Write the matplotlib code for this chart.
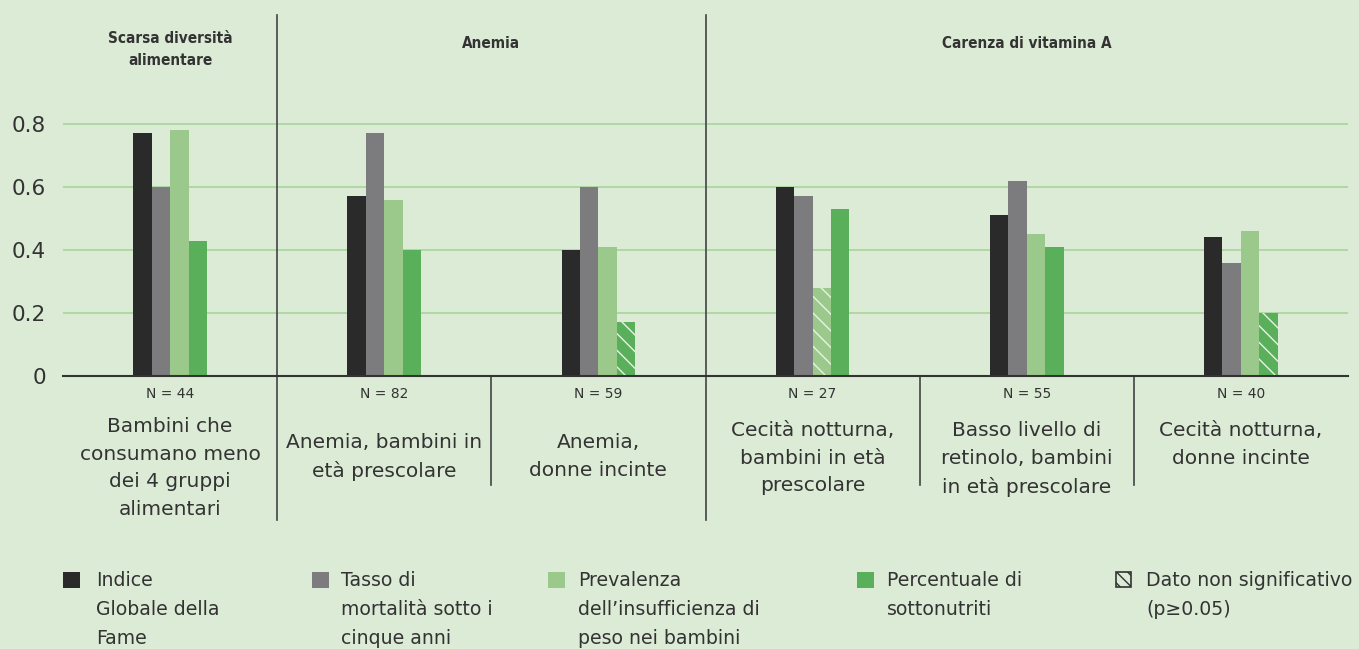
import matplotlib.pyplot as plt
import matplotlib.transforms as mtransforms
from matplotlib.patches import Rectangle

# data
categories = [
    "Bambini che\nconsumano meno\ndei 4 gruppi\nalimentari",
    "Anemia, bambini in\netà prescolare",
    "Anemia,\ndonne incinte",
    "Cecità notturna,\nbambini in età\nprescolare",
    "Basso livello di\nretinolo, bambini\nin età prescolare",
    "Cecità notturna,\ndonne incinte",
]
sample_sizes = [44, 82, 59, 27, 55, 40]
section_titles = ["Scarsa diversità\nalimentare", "Anemia", "Carenza di vitamina A"]
section_spans = [(0, 1), (1, 3), (3, 6)]

ghi = [0.77, 0.57, 0.40, 0.60, 0.51, 0.44]
u5mr = [0.60, 0.77, 0.60, 0.57, 0.62, 0.36]
underweight = [0.78, 0.56, 0.41, 0.28, 0.45, 0.46]
undernourished = [0.43, 0.40, 0.17, 0.53, 0.41, 0.20]

series = [ghi, u5mr, underweight, undernourished]
series_labels = [
    "Indice\nGlobale della\nFame",
    "Tasso di\nmortalità sotto i\ncinque anni",
    "Prevalenza\ndell’insufficienza di\npeso nei bambini",
    "Percentuale di\nsottonutriti",
]
# (series index, category index) of non significant values
not_significant = [(3, 2), (2, 3), (3, 5)]
ns_label = "Dato non significativo\n(p≥0.05)"

colors = ["#2a2a2a", "#7c7c7e", "#9bc98b", "#5ab05a"]
bg = "#dcebd6"
grid_col = "#a6d59b"
text_col = "#333333"

W, H = 1359, 649
fig = plt.figure(figsize=(W / 100, H / 100), dpi=100, facecolor=bg)


def fy(py):
    return 1 - py / H


ax = fig.add_axes([63 / W, fy(376), (1348 - 63) / W, (376 - 15) / H])
ax.set_facecolor(bg)
ax.set_xlim(0, 6)
ax.set_ylim(0, 361 / 315)

width = 0.086
offsets = [-1.5, -0.5, 0.5, 1.5]
for s, (vals, col) in enumerate(zip(series, colors)):
    xs = [i + 0.5 + offsets[s] * width for i in range(len(vals))]
    bars = ax.bar(xs, vals, width=width, color=col, linewidth=0, zorder=3)
    for (si, ci) in not_significant:
        if si == s:
            bars[ci].set_hatch("\\\\")
            bars[ci].set_edgecolor("#e8f2e4")

ax.set_yticks([0, 0.2, 0.4, 0.6, 0.8])
ax.set_yticklabels(["0", "0.2", "0.4", "0.6", "0.8"])
ax.tick_params(axis="y", length=0, pad=12, labelsize=15.5, labelcolor=text_col)
ax.tick_params(axis="x", length=0, labelbottom=False)
ax.grid(axis="y", color=grid_col, linewidth=1.2, zorder=0)
for sp in ["top", "right", "left"]:
    ax.spines[sp].set_visible(False)
ax.spines["bottom"].set_color("#333333")
ax.spines["bottom"].set_linewidth(1.5)
ax.spines["bottom"].set_zorder(4)

# divider lines
xt = ax.get_xaxis_transform()
for x in [1, 3]:
    ax.plot([x, x], [1.0, (376 - 520) / 361], transform=xt, color="#444444",
            linewidth=1.2, clip_on=False, zorder=4)
for x in [2, 4, 5]:
    ax.plot([x, x], [0, (376 - 485) / 361], transform=xt, color="#444444",
            linewidth=1.2, clip_on=False, zorder=4)

bt = mtransforms.blended_transform_factory(ax.transData, fig.transFigure)

# section titles
title_tops = [31, 36, 36]
for title, (a, b), top in zip(section_titles, section_spans, title_tops):
    ax.text((a + b) / 2, fy(top), title, transform=bt, ha="center", va="top",
            fontsize=11, fontweight="bold", fontstretch="condensed", color=text_col,
            linespacing=1.55)

# N and category labels
label_tops = [417, 433, 433, 421, 421, 421]
for i, (cat, n) in enumerate(zip(categories, sample_sizes)):
    ax.text(i + 0.5, fy(394), f"N = {n}", transform=bt, ha="center", va="center",
            fontsize=10, color=text_col)
    ax.text(i + 0.5, fy(label_tops[i]), cat, transform=bt, ha="center", va="top",
            fontsize=14.5, color=text_col, linespacing=1.57)

# legend
leg_sq = [63, 312, 548, 857, 1116]
leg_tx = [96, 341, 578, 887, 1146]
for k, lab in enumerate(series_labels + [ns_label]):
    x0 = leg_sq[k]
    if k < 4:
        fig.patches.append(Rectangle((x0 / W, fy(588)), 17 / W, 16 / H, transform=fig.transFigure,
                                     facecolor=colors[k], edgecolor="none"))
    else:
        fig.patches.append(Rectangle((x0 / W, fy(587)), 15 / W, 15 / H, transform=fig.transFigure,
                                     facecolor="none", edgecolor="#333333", hatch="\\\\\\", linewidth=1.2))
    fig.text(leg_tx[k] / W, fy(571), lab, ha="left", va="top", fontsize=13.6,
             color=text_col, linespacing=1.66)

fig.savefig("out.png", dpi=100, facecolor=bg)
